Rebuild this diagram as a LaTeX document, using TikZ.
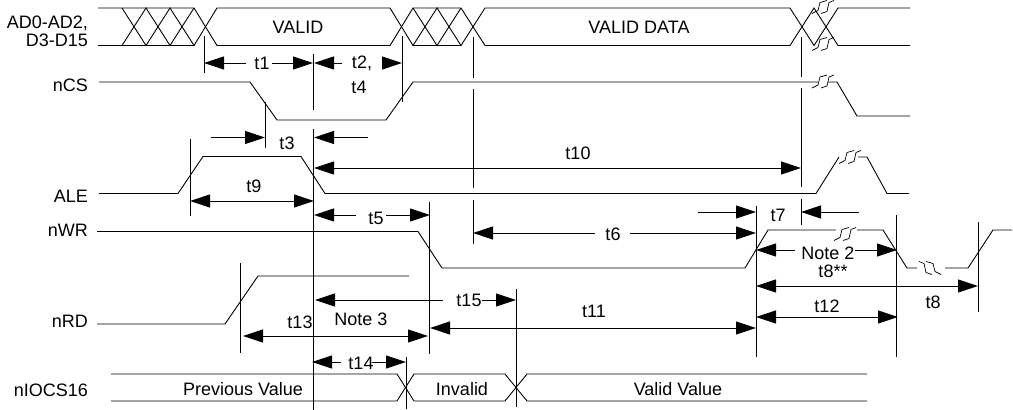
\documentclass[tikz,border=0pt]{standalone}
\usepackage{fontspec}
\setmainfont{Liberation Sans}
\usetikzlibrary{arrows.meta}
\tikzset{sig label/.style={anchor=east,inner sep=0},
  time label/.style={inner sep=0},
  sig/.style={line width=0.9pt},
  mark line/.style={line width=0.8pt},
  lead/.style={line width=0.8pt,-{Triangle[length=20pt,width=13pt]}},
  span/.style={line width=0.8pt,{Triangle[length=20pt,width=13pt]}-{Triangle[length=20pt,width=13pt]}},
  brk/.pic={\draw[line width=0.7pt] (-11,6.5) -- (-5,3.5) -- (-3,-4.5) -- (4,-6.5);
    \draw[line width=0.7pt] (-2,6.5) -- (4,4.5) -- (6,-4.5) -- (11,-6.5);}}
\def\fs{\fontsize{18}{20}\selectfont}

\begin{document}
\begin{tikzpicture}[x=1pt,y=-1pt,font=\fs]
  \useasboundingbox (0,0) rectangle (1013,410);

  %signal names
  \node[sig label] (ad) at (88,23) {AD0-AD2,};
  \node[sig label] (d) at (88,40) {D3-D15};
  \node[sig label] (ncs) at (88,85) {nCS};
  \node[sig label] (ale) at (88,196) {ALE};
  \node[sig label] (nwr) at (88,230) {nWR};
  \node[sig label] (nrd) at (88,321) {nRD};
  \node[sig label] (niocs) at (88,390) {nIOCS16};

  %bus
  \draw[sig] (98,8) -- (194,8) -- (217,45.5) -- (390,45.5) -- (413,8) -- (461,8) -- (485,45.5) -- (790,45.5) -- (814,8) -- (838,45.5) -- (910,45.5);
  \draw[sig] (98,45.5) -- (194,45.5) -- (217,8) -- (390,8) -- (413,45.5) -- (461,45.5) -- (485,8) -- (790,8) -- (814,45.5) -- (838,8) -- (910,8);
  \draw[sig] (122,45.5) -- (146,8) -- (170,45.5) -- (194,8);
  \draw[sig] (122,8) -- (146,45.5) -- (170,8) -- (194,45.5);
  \draw[sig] (413,8) -- (437,45.5) -- (461,8);
  \draw[sig] (413,45.5) -- (437,8) -- (461,45.5);
  \pic at (823,7) {brk};
  \pic at (823,44) {brk};
  \node (valid) at (298,27) {VALID};
  \node (validdata) at (639,27) {VALID DATA};

  %nCS
  \draw[sig] (99,82) -- (250,82) -- (277,120) -- (386,120) -- (413,82) -- (818,82);
  \pic at (823,81.5) {brk};
  \draw[sig] (828,82) -- (837,82) -- (857,116) -- (910,116);

  %ALE
  \draw[sig] (99,193.5) -- (178,193.5) -- (203,156.5) -- (301,156.5) -- (325,193.5) -- (816,193.5) -- (839,157);
  \pic at (850,157) {brk};
  \draw[sig] (858,157) -- (867,157) -- (887,193.5) -- (909,193.5);

  %nWR
  \draw[sig] (97,231.5) -- (418,231.5) -- (442,268) -- (745,268) -- (768,230) -- (836,230);
  \pic at (845,234) {brk};
  \draw[sig] (857,230) -- (883,230) -- (907,268) -- (917,268);
  \pic[xscale=-1] at (930,268) {brk};
  \draw[sig] (945,268) -- (968,268) -- (993,230) -- (1012,230);

  %nRD
  \draw[sig] (97,324) -- (225,324) -- (258,276) -- (409,276);

  %nIOCS16
  \draw[sig] (111,374) -- (397,374) -- (414,401) -- (505,401) -- (527,374) -- (867,374);
  \draw[sig] (111,401) -- (397,401) -- (414,374) -- (505,374) -- (527,401) -- (867,401);
  \node (prev) at (243,389) {Previous Value};
  \node (invalid) at (462,389) {Invalid};
  \node (validval) at (678,389) {Valid Value};

  %vertical marks
  \draw[mark line] (313,54) -- (313,110);
  \draw[mark line] (313,129) -- (313,410);
  \draw[mark line] (204,36) -- (204,73);
  \draw[mark line] (402,36) -- (402,102);
  \draw[mark line] (265,102) -- (265,148);
  \draw[mark line] (190,139) -- (190,216);
  \draw[mark line] (473,37) -- (473,78);
  \draw[mark line] (473,89) -- (473,188);
  \draw[mark line] (473,200) -- (473,244);
  \draw[mark line] (801,37) -- (801,77);
  \draw[mark line] (801,88) -- (801,187);
  \draw[mark line] (801,199) -- (801,225);
  \draw[mark line] (429,202) -- (429,354);
  \draw[mark line] (240,263) -- (240,353);
  \draw[mark line] (406,357) -- (406,409);
  \draw[mark line] (516,289) -- (516,407);
  \draw[mark line] (756,206) -- (756,357);
  \draw[mark line] (896,215) -- (896,357);
  \draw[mark line] (978,222) -- (978,312);

  %t1
  \node[time label] (t1) at (262,63) {t1};
  \draw[lead] (246,63) -- (204,63);
  \draw[lead] (272,63) -- (313,63);

  %t2, t4
  \node[time label] (t2) at (362,63) {t2,};
  \node[time label] (t4) at (359,87) {t4};
  \draw[lead] (342,63) -- (314,63);
  \draw[lead] (383,63) -- (402,63);

  %t3
  \node[time label] (t3) at (287,143) {t3};
  \draw[lead] (211,137.5) -- (265,137.5);
  \draw[lead] (368,137.5) -- (314,137.5);

  %t9, t10
  \node[time label] (t9) at (254,186) {t9};
  \draw[span] (190,201) -- (314,201);
  \node[time label] (t10) at (578,153) {t10};
  \draw[span] (314,168) -- (801,168);

  %t5, t6, t7
  \node[time label] (t5) at (376,218) {t5};
  \draw[lead] (356,215) -- (314,215);
  \draw[lead] (386,215) -- (430,215);
  \node[time label] (t6) at (613,234) {t6};
  \draw[lead] (595,233) -- (473,233);
  \draw[lead] (630,233) -- (756,233);
  \node[time label] (t7) at (778,215) {t7};
  \draw[lead] (698,212) -- (756,212);
  \draw[lead] (859,212) -- (801,212);

  %Note 2, t8
  \node[time label] (note2) at (828,253) {Note 2};
  \node[time label] (t8s) at (833,271) {t8**};
  \draw[lead] (795,250) -- (756,250);
  \draw[lead] (855,250) -- (897,250);
  \node[time label] (t8) at (933,302) {t8};
  \draw[span] (756,286) -- (978,286);

  %t11, t12
  \node[time label] (t12) at (827,306) {t12};
  \draw[span] (756,317) -- (898,317);
  \node[time label] (t11) at (594,311) {t11};
  \draw[span] (430,328) -- (756,328);

  %t13, t14, t15
  \node[time label] (t15) at (469,300) {t15};
  \draw[lead] (443,300) -- (315,300);
  \draw[lead] (482,300) -- (516,300);
  \node[time label] (note3) at (361,319) {Note 3};
  \node[time label] (t13) at (300,322) {t13};
  \draw[span] (243,336) -- (428,336);
  \node[time label] (t14) at (361,363) {t14};
  \draw[lead] (341,362) -- (312,362);
  \draw[lead] (372,362) -- (406,362);

\end{tikzpicture}
\end{document}
